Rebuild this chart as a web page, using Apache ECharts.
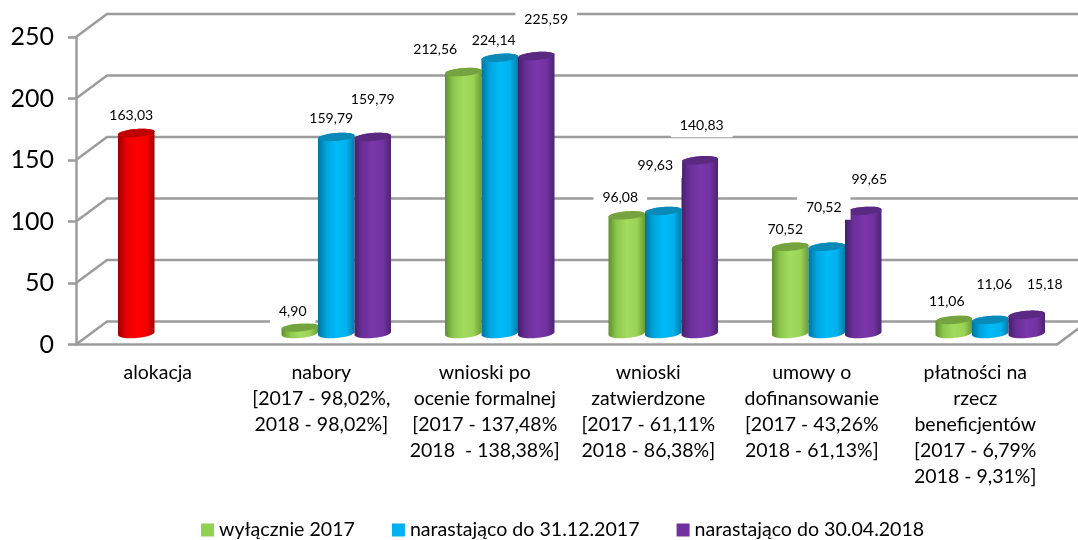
<!DOCTYPE html>
<html>
<head>
<meta charset="utf-8">
<style>
  html, body { margin: 0; padding: 0; background: #fff; }
  #main { width: 1078px; height: 540px; }
</style>
<script src="https://cdn.jsdelivr.net/npm/echarts@6/dist/echarts.min.js"></script>
</head>
<body>
<div id="main"></div>
<script>
const categories = [
  'alokacja',
  'nabory\n[2017 - 98,02%,\n2018 - 98,02%]',
  'wnioski po\nocenie formalnej\n[2017 - 137,48%\n2018  - 138,38%]',
  'wnioski\nzatwierdzone\n[2017 - 61,11%\n2018 - 86,38%]',
  'umowy o\ndofinansowanie\n[2017 - 43,26%\n2018 - 61,13%]',
  'płatności na\nrzecz\nbeneficjentów\n[2017 - 6,79%\n2018 - 9,31%]'
];
const seriesNames = ['wyłącznie 2017', 'narastająco do 31.12.2017', 'narastająco do 30.04.2018'];
const only2017 = [163.03, 4.90, 212.56, 96.08, 70.52, 11.06];
const to20171231 = [null, 159.79, 224.14, 99.63, 70.52, 11.06];
const to20180430 = [null, 159.79, 225.59, 140.83, 99.65, 15.18];
const yTicks = [0, 50, 100, 150, 200, 250];

// przesuniecie etykiet wzgledem gornej krawedzi slupka
const labelNudge = [
  [[-5, -17], [-7, -16], [-28, -23], [-6.5, -18], [-5, -17], [-7, -18]],
  [null, [-5, -18], [-6, -17], [-8, -45], [-3, -39], [4, -35]],
  [null, [0, -37], [10, -37], [2, -35], [6, -31], [18, -30]]
];

const DEPTH_X = 31, DEPTH_Y = 23; // glebokosc sciany tylnej
const BAR_DX = 15, BAR_DY = 11;   // slupki stoja w polowie podlogi
const BAR_SHARE = 0.2232;         // szerokosc slupka jako czesc kategorii
const GREY = '#9c9c9c';
const FONT = 'Lato, "Noto Sans", sans-serif';

const palette = [
  { solid: '#92d050', top: '#75a33f', stops: ['#5f8f2e', '#8cc64c', '#a2dc5e', '#9ad356', '#6d9c36'] },
  { solid: '#00b0f0', top: '#0a8ab8', stops: ['#00749c', '#00a4de', '#00baf8', '#00b2ee', '#007ca6'] },
  { solid: '#7030a0', top: '#5a2a82', stops: ['#45206a', '#6a2f98', '#7a36aa', '#7232a2', '#4c2372'] }
];
const redBar = { solid: '#ff0000', top: '#c00000', stops: ['#980000', '#e80000', '#ff0000', '#f50000', '#a80000'] };

function bodyGradient(c) {
  return new echarts.graphic.LinearGradient(0, 0, 1, 0, [
    { offset: 0, color: c.stops[0] },
    { offset: 0.22, color: c.stops[1] },
    { offset: 0.5, color: c.stops[2] },
    { offset: 0.78, color: c.stops[3] },
    { offset: 1, color: c.stops[4] }
  ]);
}

// punkt na pochylonej elipsie
function ellipsePoint(cx, cy, a, b, t) {
  return [cx + a * Math.cos(t), cy + b * Math.sin(t) - a * 0.08 * Math.cos(t)];
}

function barCenter(api, i, s) {
  const w = api.size([1, 0])[0] * BAR_SHARE;
  return api.coord([i, 0])[0] + BAR_DX + (s - 1) * w;
}

function cylinderItem(seriesIdx) {
  return function (params, api) {
    const v = api.value(1);
    if (v == null || isNaN(v)) return;
    const i = api.value(0);
    const w = api.size([1, 0])[0] * BAR_SHARE;
    const center = barCenter(api, i, seriesIdx);
    const baseY = api.coord([i, 0])[1] - BAR_DY;
    const topY = api.coord([i, v])[1] - BAR_DY;
    const a = w / 2, b = 4;
    const c = (seriesIdx === 0 && i === 0) ? redBar : palette[seriesIdx];

    const body = [], top = [];
    for (let k = 0; k <= 24; k++) body.push(ellipsePoint(center, baseY, a, b + 0.5, Math.PI * k / 24));
    for (let k = 0; k <= 24; k++) body.push(ellipsePoint(center, topY, a, b, Math.PI + Math.PI * k / 24));
    for (let k = 0; k < 48; k++) top.push(ellipsePoint(center, topY, a, b, 2 * Math.PI * k / 48));

    return {
      type: 'group',
      children: [
        { type: 'polygon', shape: { points: body }, style: { fill: bodyGradient(c) } },
        { type: 'polygon', shape: { points: top }, style: { fill: c.top } }
      ]
    };
  };
}

// etykiety osobno, zeby biale tlo przykrywalo tez slupki
function labelItem(params, api) {
  const i = api.value(0), v = api.value(1), s = api.value(2);
  const nudge = labelNudge[s][i];
  return {
    type: 'text',
    style: {
      x: barCenter(api, i, s) + nudge[0],
      y: api.coord([i, v])[1] - BAR_DY + nudge[1],
      text: v.toFixed(2).replace('.', ','),
      align: 'center',
      verticalAlign: 'middle',
      font: '14px ' + FONT,
      fill: '#000',
      backgroundColor: '#fff',
      padding: [5, 9]
    }
  };
}

function wallItem(params, api) {
  const cs = params.coordSys;
  const y = api.coord([0, api.value(0)])[1];
  const left = cs.x;
  const children = [{
    type: 'polyline',
    shape: { points: [[left, y], [left + DEPTH_X, y - DEPTH_Y], [left + cs.width + DEPTH_X, y - DEPTH_Y]] },
    style: { stroke: GREY, lineWidth: 2.5, fill: null }
  }];
  if (params.dataIndex === 0) {
    // krawedz podlogi po prawej
    children.push({
      type: 'line',
      shape: { x1: left + cs.width, y1: y, x2: left + cs.width + DEPTH_X, y2: y - DEPTH_Y },
      style: { stroke: GREY, lineWidth: 2.5 }
    });
  }
  return { type: 'group', children: children };
}

const chart = echarts.init(document.getElementById('main'), null, { renderer: 'canvas' });

const barData = [only2017, to20171231, to20180430];
const labelData = [];
barData.forEach((values, s) => {
  values.forEach((v, i) => {
    if (v != null) labelData.push([i, v, s]);
  });
});

chart.setOption({
  animation: false,
  grid: { left: 76, right: 21, top: 37, bottom: 195.5 },
  legend: {
    data: seriesNames,
    left: 196,
    top: 515,
    icon: 'rect',
    itemWidth: 13,
    itemHeight: 13,
    itemGap: 37,
    textStyle: { fontFamily: FONT, fontSize: 19.6, color: '#000' }
  },
  xAxis: {
    type: 'category',
    data: categories,
    axisLine: { lineStyle: { color: GREY, width: 2.5 } },
    axisTick: { length: 6, lineStyle: { color: GREY, width: 2 } },
    axisLabel: {
      interval: 0,
      margin: 15,
      fontFamily: FONT,
      fontSize: 19.5,
      lineHeight: 26,
      color: '#000'
    }
  },
  yAxis: {
    type: 'value',
    min: 0,
    max: 250,
    interval: 50,
    splitLine: { show: false },
    axisLine: { show: true, lineStyle: { color: GREY, width: 2.5 } },
    axisTick: { show: true, length: 8, lineStyle: { color: GREY, width: 2.5 } },
    axisLabel: { margin: 22, fontFamily: FONT, fontSize: 25, color: '#000' }
  },
  series: [
    {
      type: 'custom',
      name: 'wall',
      silent: true,
      renderItem: wallItem,
      encode: { y: 0 },
      data: yTicks.map(v => [v]),
      z: 1
    }
  ].concat(seriesNames.map((name, s) => ({
    type: 'custom',
    name: name,
    renderItem: cylinderItem(s),
    encode: { x: 0, y: 1 },
    itemStyle: { color: palette[s].solid },
    data: barData[s].map((v, i) => [i, v]),
    z: 2 + s
  }))).concat([
    {
      type: 'custom',
      name: 'labels',
      silent: true,
      renderItem: labelItem,
      encode: { x: 0, y: 1 },
      data: labelData,
      z: 10
    }
  ])
});
</script>
</body>
</html>
